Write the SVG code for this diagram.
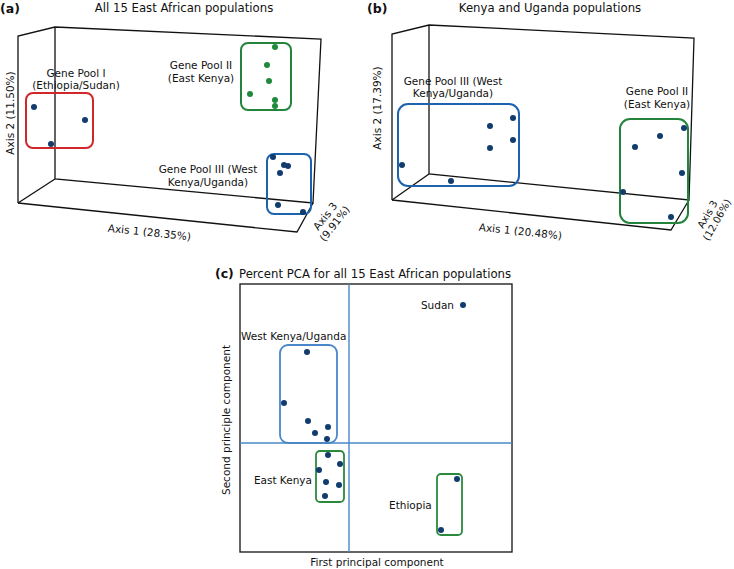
<svg xmlns="http://www.w3.org/2000/svg" width="734" height="569" viewBox="0 0 734 569">
<style>
text{font-family:"DejaVu Sans","Liberation Sans",sans-serif;font-size:10.5px;fill:#111}
.t{font-size:11.7px}
.p{font-size:12.5px;font-weight:bold}
.m{text-anchor:middle}
.e{text-anchor:end}
.ax{fill:none;stroke:#111;stroke-width:1.3}
.d{fill:#123c6d}
.g{fill:#1f8a3c}
.red{fill:none;stroke:#d0282a;stroke-width:2}
.grn{fill:none;stroke:#24843b;stroke-width:2}
.blu{fill:none;stroke:#1d62ac;stroke-width:2}
.lb{fill:none;stroke:#4a87c9;stroke-width:1.8}
.lg{fill:none;stroke:#2a8a3c;stroke-width:1.8}
.cl{stroke:#4a87c9;stroke-width:1.4}
</style>
<g id="panel-a">
<text class="p" x="0" y="13">(a)</text>
<text class="t m" x="184" y="12">All 15 East African populations</text>
<g id="a-axes" class="ax">
<path d="M18,203 L18,36 L55,27 L321,39 L313,203 L55,179 L55,27"/>
<path d="M18,203 L55,179"/>
<path d="M18,203 L297,232 L313,203"/>
</g>
<g id="a-pool1">
<rect class="red" x="26" y="93" width="67" height="55" rx="7"/>
<circle class="d" cx="34" cy="107" r="3"/><circle class="d" cx="85" cy="120" r="3"/><circle class="d" cx="51" cy="144" r="3"/>
<text class="m" x="76" y="77">Gene Pool I</text>
<text class="m" x="76" y="89">(Ethiopia/Sudan)</text>
</g>
<g id="a-pool2">
<rect class="grn" x="241" y="43" width="50" height="67" rx="7"/>
<circle class="g" cx="275" cy="47" r="3"/><circle class="g" cx="267" cy="65" r="3"/><circle class="g" cx="269" cy="81" r="3"/><circle class="g" cx="250" cy="94" r="3"/><circle class="g" cx="275" cy="100" r="3"/><circle class="g" cx="275" cy="106" r="3"/>
<text class="m" x="201" y="69">Gene Pool II</text>
<text class="m" x="201" y="82">(East Kenya)</text>
</g>
<g id="a-pool3">
<rect class="blu" x="267" y="154" width="44" height="60" rx="7"/>
<circle class="d" cx="273" cy="157" r="3"/><circle class="d" cx="284" cy="165" r="3"/><circle class="d" cx="288" cy="166" r="3"/><circle class="d" cx="280" cy="173" r="3"/><circle class="d" cx="278" cy="205" r="3"/><circle class="d" cx="303" cy="212" r="3"/>
<text class="m" x="208" y="173">Gene Pool III (West</text>
<text class="m" x="208" y="186">Kenya/Uganda)</text>
</g>
<text class="m" transform="translate(149,236) rotate(6)">Axis 1 (28.35%)</text>
<text class="m" transform="translate(14,113) rotate(-90)">Axis 2 (11.50%)</text>
<g transform="translate(325,216) rotate(-52)">
<text class="m" y="4">Axis 3</text>
<text class="m" y="16">(9.91%)</text>
</g>
</g>
<g id="panel-b">
<text class="p" x="367" y="13">(b)</text>
<text class="t m" x="550" y="12">Kenya and Uganda populations</text>
<g id="b-axes" class="ax">
<path d="M392,200 L392,34 L429,25 L694,38 L689,200 L429,174 L429,25"/>
<path d="M392,200 L429,174"/>
<path d="M392,200 L671,230 L689,200"/>
</g>
<g id="b-pool3">
<rect class="blu" x="398" y="104" width="121" height="82" rx="10"/>
<circle class="d" cx="402" cy="165" r="3"/><circle class="d" cx="451" cy="181" r="3"/><circle class="d" cx="490" cy="126" r="3"/><circle class="d" cx="513" cy="118" r="3"/><circle class="d" cx="490" cy="148" r="3"/><circle class="d" cx="513" cy="140" r="3"/>
<text class="m" x="453" y="85">Gene Pool III (West</text>
<text class="m" x="453" y="97">Kenya/Uganda)</text>
</g>
<g id="b-pool2">
<rect class="grn" x="620" y="119" width="68" height="104" rx="10"/>
<circle class="d" cx="635" cy="147" r="3"/><circle class="d" cx="660" cy="136" r="3"/><circle class="d" cx="684" cy="128" r="3"/><circle class="d" cx="682" cy="173" r="3"/><circle class="d" cx="623" cy="192" r="3"/><circle class="d" cx="671" cy="217" r="3"/>
<text class="m" x="657" y="95">Gene Pool II</text>
<text class="m" x="657" y="108">(East Kenya)</text>
</g>
<text class="m" transform="translate(520,235) rotate(6)">Axis 1 (20.48%)</text>
<text class="m" transform="translate(381,108) rotate(-90)">Axis 2 (17.39%)</text>
<g transform="translate(707,214) rotate(-60)" style="font-size:10px">
<text class="m" y="4" style="font-size:10px">Axis 3</text>
<text class="m" y="15" style="font-size:10px">(12.06%)</text>
</g>
</g>
<g id="panel-c">
<text class="p" x="215" y="278">(c)</text>
<text class="t" x="239" y="278">Percent PCA for all 15 East African populations</text>
<rect class="ax" x="240" y="284" width="272" height="268"/>
<g id="c-axes">
<line class="cl" x1="349" y1="284" x2="349" y2="552"/>
<line class="cl" x1="240" y1="443" x2="512" y2="443"/>
</g>
<g id="c-sudan">
<circle class="d" cx="463" cy="305" r="3"/>
<text class="e" x="454" y="309">Sudan</text>
</g>
<g id="c-west">
<rect class="lb" x="280" y="345" width="57" height="98" rx="8"/>
<circle class="d" cx="307" cy="352" r="3"/><circle class="d" cx="284" cy="403" r="3"/><circle class="d" cx="308" cy="421" r="3"/><circle class="d" cx="328" cy="427" r="3"/><circle class="d" cx="315" cy="433" r="3"/><circle class="d" cx="327" cy="439" r="3"/>
<text x="241" y="340">West Kenya/Uganda</text>
</g>
<g id="c-east">
<rect class="lg" x="316" y="451" width="28" height="51" rx="4"/>
<circle class="d" cx="328" cy="455" r="3"/><circle class="d" cx="340" cy="464" r="3"/><circle class="d" cx="319" cy="470" r="3"/><circle class="d" cx="326" cy="482" r="3"/><circle class="d" cx="339" cy="485" r="3"/><circle class="d" cx="325" cy="496" r="3"/>
<text class="e" x="312" y="484">East Kenya</text>
</g>
<g id="c-ethiopia">
<rect class="lg" x="437" y="474" width="25" height="61" rx="4"/>
<circle class="d" cx="457" cy="479" r="3"/><circle class="d" cx="441" cy="530" r="3"/>
<text x="389" y="509">Ethiopia</text>
</g>
<text class="m" x="377" y="566">First principal component</text>
<text class="m" transform="translate(230,420) rotate(-90)">Second principle component</text>
</g>
</svg>
